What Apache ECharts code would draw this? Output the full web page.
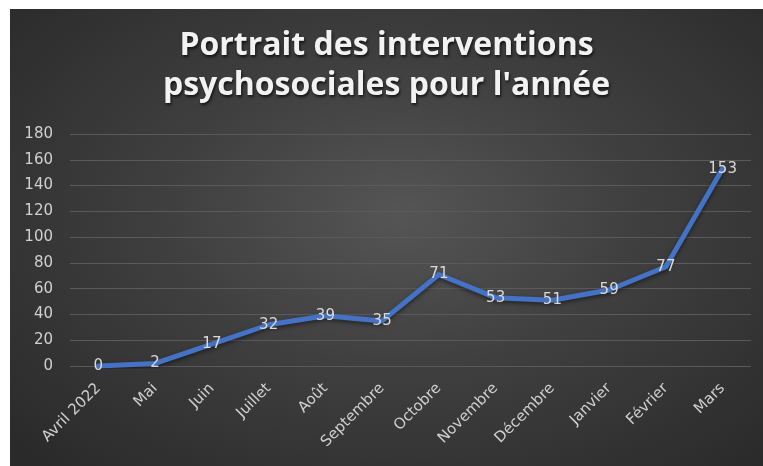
<!DOCTYPE html>
<html>
<head>
<meta charset="utf-8">
<script src="https://cdn.jsdelivr.net/npm/echarts@6/dist/echarts.min.js"></script>
<style>
  html, body { margin: 0; padding: 0; background: #fff; }
  #chart {
    position: absolute; left: 10px; top: 9px; width: 753px; height: 457px;
    background: radial-gradient(ellipse 70% 75% at 52% 45%, #555555 0%, #3f3f3f 45%, #2a2a2a 100%);
  }
</style>
</head>
<body>
<div id="chart"></div>
<script>
// données du graphique
var mois = ['Avril 2022', 'Mai', 'Juin', 'Juillet', 'Août', 'Septembre', 'Octobre',
            'Novembre', 'Décembre', 'Janvier', 'Février', 'Mars'];
var interventions = [0, 2, 17, 32, 39, 35, 71, 53, 51, 59, 77, 153];
var titre = "Portrait des interventions\npsychosociales pour l'année";

var myChart = echarts.init(document.getElementById('chart'));

var option = {
  backgroundColor: 'transparent',
  title: {
    text: titre,
    left: 'center',
    top: 12,
    textStyle: {
      color: '#f2f2f2',
      fontFamily: 'Open Sans',
      fontWeight: 'bold',
      fontSize: 32,
      lineHeight: 40,
      textShadowColor: 'rgba(0,0,0,0.7)',
      textShadowBlur: 3,
      textShadowOffsetX: 1,
      textShadowOffsetY: 2
    }
  },
  grid: {
    left: 60,
    right: 12,
    top: 125,
    bottom: 100
  },
  xAxis: {
    type: 'category',
    data: mois,
    boundaryGap: true,
    axisLine: { show: false },
    axisTick: { show: false },
    axisLabel: {
      rotate: 45,
      interval: 0,
      color: '#d0d0d0',
      fontFamily: 'DejaVu Sans',
      fontSize: 15,
      margin: 20
    }
  },
  yAxis: {
    type: 'value',
    min: 0,
    max: 180,
    interval: 20,
    axisLine: { show: false },
    axisTick: { show: false },
    axisLabel: {
      color: '#d0d0d0',
      fontFamily: 'DejaVu Sans',
      fontSize: 15,
      margin: 17
    },
    splitLine: {
      lineStyle: { color: '#5a5a5a', width: 1 }
    }
  },
  series: [
    {
      type: 'line',
      data: interventions,
      symbol: 'circle',
      symbolSize: 1,
      showSymbol: true,
      itemStyle: { color: 'transparent', borderWidth: 0 },
      lineStyle: {
        color: '#4472c4',
        width: 5,
        cap: 'round',
        join: 'round',
        shadowColor: 'rgba(0,0,0,0.5)',
        shadowBlur: 4,
        shadowOffsetY: 2
      },
      label: {
        show: true,
        position: 'inside',
        color: '#d9d9d9',
        fontFamily: 'DejaVu Sans',
        fontSize: 15
      },
      labelLayout: { hideOverlap: false }
    }
  ]
};

myChart.setOption(option);
</script>
</body>
</html>
